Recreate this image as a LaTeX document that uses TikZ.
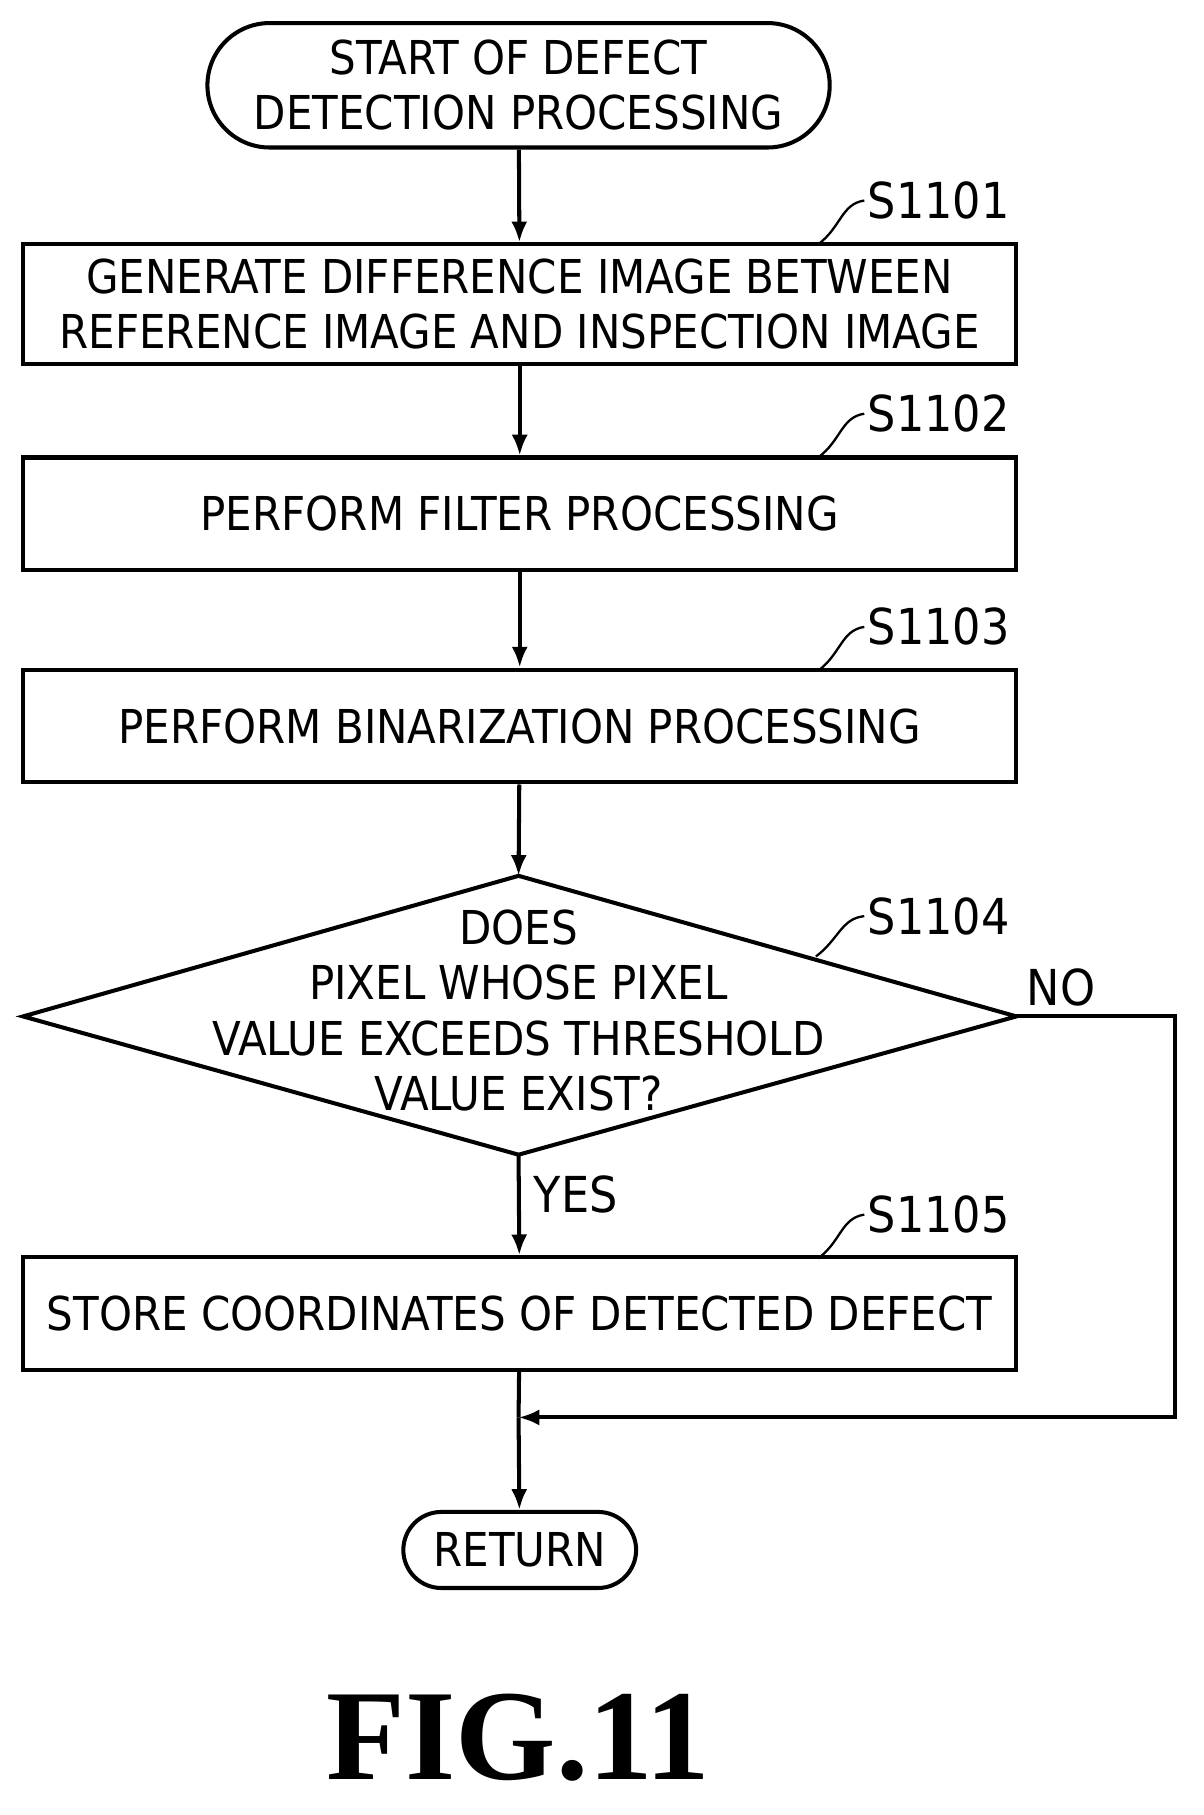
\documentclass[tikz,border=0pt]{standalone}
\usetikzlibrary{arrows.meta}
\usepackage{fontspec}
\newfontfamily\df{DejaVu Sans Condensed}
\setmainfont{Liberation Serif}
\begin{document}
\begin{tikzpicture}[x=1pt,y=-1pt,line width=3.5pt,
 txt/.style={font=\df\fontsize{40.5}{48}\selectfont,align=center},
 box/.style={draw,minimum width=862pt,minimum height=98pt,inner xsep=2pt,txt},
 lab/.style={font=\df\fontsize{43}{50}\selectfont,anchor=west},
 arr/.style={-{Latex[length=18pt,width=14pt]}}]
\useasboundingbox (0,0) rectangle (1044,1575);
\node[draw,rounded corners=54pt,minimum width=540pt,minimum height=108pt,txt] (st) at (450,74) {START OF DEFECT\\DETECTION PROCESSING};
\node[box,minimum height=104pt] (b1) at (451,264) {GENERATE DIFFERENCE IMAGE BETWEEN\\REFERENCE IMAGE AND INSPECTION IMAGE};
\node[box] (b2) at (451,446) {PERFORM FILTER PROCESSING};
\node[box] (b3) at (451,630) {PERFORM BINARIZATION PROCESSING};
\coordinate (dt) at (450,760); \coordinate (db) at (450,1002);
\coordinate (dl) at (20,882); \coordinate (dr) at (882,882);
\draw (dt) -- (dr) -- (db) -- (dl) -- cycle;
\node[txt] (dtext) at (450,877) {DOES\\PIXEL WHOSE PIXEL\\VALUE EXCEEDS THRESHOLD\\VALUE EXIST?};
\node[box] (b5) at (451,1140) {STORE COORDINATES OF DETECTED DEFECT};
\node[draw,rounded corners=33pt,minimum width=202pt,minimum height=66pt,txt] (ret) at (451,1345) {RETURN};
\foreach \n/\y/\t in {1/212/S1101,2/397/S1102,3/582/S1103,5/1092/S1105}{
 \coordinate (s\n) at (710,\y);
 \draw[line width=2pt] (s\n) .. controls (730,\y-15) and (730,\y-35) .. (750,\y-38);
 \node[lab] (l\n) at (748,\y-38) {\t};}
\coordinate (s4) at (708,830);
\draw[line width=2pt] (s4) .. controls (728,815) and (730,797) .. (750,795);
\node[lab] (l4) at (748,795) {S1104};
\draw[arr] (st) -- (b1);
\draw[arr] (b1) -- (b2);
\draw[arr] (b2) -- (b3);
\draw[arr] (b3) -- (dt);
\draw[arr] (db) -- (b5) node[pos=0.4,lab,anchor=west,xshift=8pt] (yes) {YES};
\coordinate (m) at (450,1230);
\coordinate (n1) at (1020,882); \coordinate (n2) at (1020,1230);
\draw (b5) -- (m);
\draw[arr] (m) -- (ret);
\draw[arr] (dr) -- (n1) -- (n2) -- (m);
\node[lab] (no) at (886,857) {NO};
\node[font=\bfseries\fontsize{112}{116}\selectfont] (fig) at (450,1508) {FIG.11};
\end{tikzpicture}
\end{document}
